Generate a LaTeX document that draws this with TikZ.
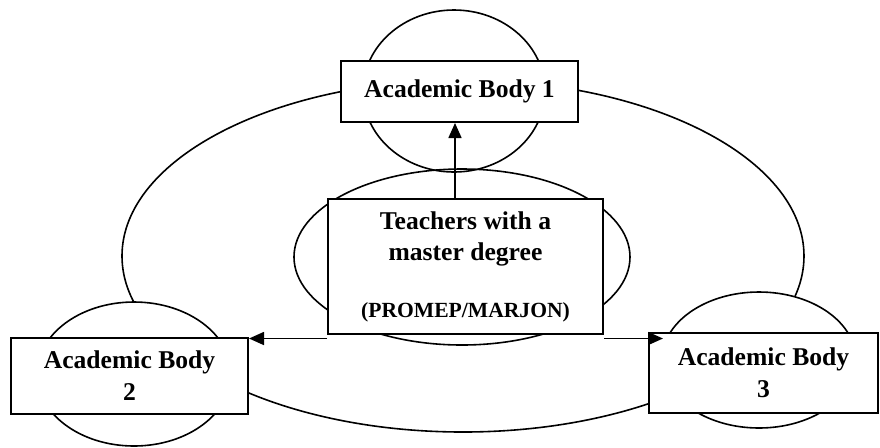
\documentclass[tikz,border=0pt]{standalone}
\usepackage{fontspec}
\setmainfont{Liberation Serif}
\usetikzlibrary{arrows.meta}
\begin{document}
\begin{tikzpicture}[x=0.5pt,y=-0.5pt,
  ring/.style={draw=black,line width=0.8pt},
  ringw/.style={draw=black,fill=white,line width=0.8pt},
  bodybox/.style={draw=black,fill=white,line width=1pt,rectangle,inner sep=0pt,align=center,
     font=\bfseries\fontsize{12.8}{16}\selectfont},
  arr/.style={line width=0.8pt,-{Triangle[length=7.5pt,width=6.5pt]}}]
\useasboundingbox (0,0) rectangle (880,447);
% large ring
\draw[ring] (463,256) ellipse [x radius=341,y radius=176];
% small ellipses
\draw[ring] (454,91) ellipse [x radius=91,y radius=81];
\draw[ring] (462,257) ellipse [x radius=168,y radius=88];
\draw[ringw] (134,374) ellipse [x radius=97,y radius=72];
\draw[ringw] (759,360) ellipse [x radius=97,y radius=68];
% boxes
\node[bodybox,minimum width=118.5pt,minimum height=30.5pt] (b1) at (459.5,91.5) {Academic Body 1};
\node[bodybox,minimum width=137.5pt,minimum height=67.5pt,
  font=\bfseries\fontsize{12.8}{15.5}\selectfont] (c) at (465.5,266.5)
  {Teachers with a\\master degree\\[13pt]{\fontsize{10.8}{13}\selectfont (PROMEP/MARJON)}};
\node[bodybox,minimum width=118.5pt,minimum height=38pt] (b2) at (129.5,376) {Academic Body\\2};
\node[bodybox,minimum width=114.5pt,minimum height=40pt] (b3) at (763.5,373) {Academic Body\\3};
% connectors
\coordinate (ax) at (455,0);
\coordinate (ly) at (0,338.5);
\coordinate (rt) at (663,338.5);
\draw[arr] (c.north -| ax) -- (b1.south -| ax);
\draw[arr] (c.west |- ly) -- (b2.east |- ly);
\draw[arr] (c.east |- ly) -- (rt);
\end{tikzpicture}
\end{document}
